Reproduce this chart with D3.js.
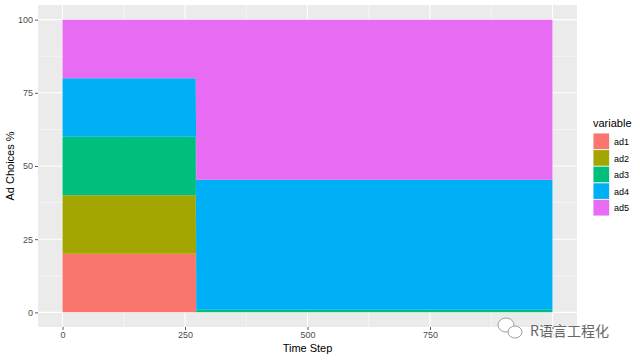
<!DOCTYPE html>
<html>
<head>
<meta charset="utf-8">
<script src="https://cdn.jsdelivr.net/npm/d3@7"></script>
<style>
  body { margin: 0; background: #fff; }
  svg { display: block; font-family: "Liberation Sans", Arial, sans-serif; }
</style>
</head>
<body>
<svg width="640" height="360"></svg>
<script>
// data: shares (%) at the breakpoints of the time axis
const timeSteps = [0, 272, 273, 1000];
const ad1 = [20, 20, 0, 0];
const ad2 = [20, 20, 0, 0];
const ad3 = [20, 20, 0.9, 0.9];
const ad4 = [20, 20, 44.4, 44.4];
const ad5 = [20, 20, 54.7, 54.7];
const series = ["ad1", "ad2", "ad3", "ad4", "ad5"];
const colors = ["#F8766D", "#A3A500", "#00BF7D", "#00B0F6", "#E76BF3"];
const xTicks = [0, 250, 500, 750, 1000];
const yTicks = [0, 25, 50, 75, 100];

const rows = timeSteps.map((t, i) => ({
    t: t, ad1: ad1[i], ad2: ad2[i], ad3: ad3[i], ad4: ad4[i], ad5: ad5[i]
}));

const svg = d3.select("svg");
const panel = {left: 38, right: 577, top: 5, bottom: 327};

// ggplot style 5% expansion
const x = d3.scaleLinear().domain([-50, 1050]).range([panel.left, panel.right]);
const y = d3.scaleLinear().domain([-5, 105]).range([panel.bottom, panel.top]);

svg.append("rect")
    .attr("x", panel.left).attr("y", panel.top)
    .attr("width", panel.right - panel.left)
    .attr("height", panel.bottom - panel.top)
    .attr("fill", "#EBEBEB");

const grid = svg.append("g");
const minorX = [125, 375, 625, 875];
const minorY = [12.5, 37.5, 62.5, 87.5];
grid.selectAll(".mx").data(minorX).enter().append("line")
    .attr("x1", d => x(d)).attr("x2", d => x(d))
    .attr("y1", panel.top).attr("y2", panel.bottom)
    .attr("stroke", "#fff").attr("stroke-width", 0.5);
grid.selectAll(".my").data(minorY).enter().append("line")
    .attr("y1", d => y(d)).attr("y2", d => y(d))
    .attr("x1", panel.left).attr("x2", panel.right)
    .attr("stroke", "#fff").attr("stroke-width", 0.5);
grid.selectAll(".gx").data(xTicks).enter().append("line")
    .attr("x1", d => x(d)).attr("x2", d => x(d))
    .attr("y1", panel.top).attr("y2", panel.bottom)
    .attr("stroke", "#fff").attr("stroke-width", 1.1);
grid.selectAll(".gy").data(yTicks).enter().append("line")
    .attr("y1", d => y(d)).attr("y2", d => y(d))
    .attr("x1", panel.left).attr("x2", panel.right)
    .attr("stroke", "#fff").attr("stroke-width", 1.1);

const stacked = d3.stack().keys(series)(rows);
const area = d3.area()
    .x(d => x(d.data.t))
    .y0(d => y(d[0]))
    .y1(d => y(d[1]));

svg.append("g").selectAll("path").data(stacked).enter().append("path")
    .attr("d", area)
    .attr("fill", (d, i) => colors[i]);

// axes
const xAxis = svg.append("g")
    .attr("transform", `translate(0,${panel.bottom})`)
    .call(d3.axisBottom(x).tickValues(xTicks).tickSize(3).tickPadding(2));
const yAxis = svg.append("g")
    .attr("transform", `translate(${panel.left},0)`)
    .call(d3.axisLeft(y).tickValues(yTicks).tickSize(3).tickPadding(2));
[xAxis, yAxis].forEach(a => {
    a.select(".domain").remove();
    a.selectAll(".tick line").attr("stroke", "#333").attr("stroke-width", 0.8);
    a.selectAll(".tick text").attr("fill", "#4D4D4D")
        .style("font-size", "9px").style("font-family", "Liberation Sans, Arial, sans-serif");
});

svg.append("text")
    .attr("x", (panel.left + panel.right) / 2).attr("y", 352)
    .attr("text-anchor", "middle").attr("fill", "#000")
    .style("font-size", "11px").text("Time Step");
svg.append("text")
    .attr("transform", `translate(14,${(panel.top + panel.bottom) / 2}) rotate(-90)`)
    .attr("text-anchor", "middle").attr("fill", "#000")
    .style("font-size", "11px").text("Ad Choices %");

// legend
const legend = svg.append("g").attr("transform", "translate(593,0)");
legend.append("text").attr("x", 0).attr("y", 127)
    .style("font-size", "11px").attr("fill", "#000").text("variable");
const keys = legend.selectAll(".key").data(series).enter().append("g")
    .attr("transform", (d, i) => `translate(0,${133 + i * 16.6})`);
keys.append("rect").attr("width", 16.6).attr("height", 16.6)
    .attr("fill", "#F2F2F2");
keys.append("rect").attr("x", 0.5).attr("y", 0.5).attr("width", 15.6).attr("height", 15.6)
    .attr("fill", (d, i) => colors[i]);
keys.append("text").attr("x", 21).attr("y", 12)
    .style("font-size", "9px").attr("fill", "#000").text(d => d);

// watermark, drawn over the plot like the reference (it hides most of "1000")
const wm = svg.append("g");
wm.append("rect").attr("x", 528).attr("y", 329).attr("width", 94).attr("height", 12)
    .attr("fill", "#fff").attr("opacity", 0.8);
wm.append("ellipse").attr("cx", 506).attr("cy", 325).attr("rx", 8).attr("ry", 7)
    .attr("fill", "#fff").attr("stroke", "#888").attr("stroke-width", 0.8);
wm.append("ellipse").attr("cx", 515).attr("cy", 332).attr("rx", 7).attr("ry", 6)
    .attr("fill", "#fff").attr("stroke", "#888").attr("stroke-width", 0.8);
wm.append("text").attr("x", 530).attr("y", 336)
    .style("font-family", "Noto Sans CJK SC, sans-serif").style("font-size", "14px")
    .attr("fill", "#666").text("R语言工程化");
</script>
</body>
</html>
